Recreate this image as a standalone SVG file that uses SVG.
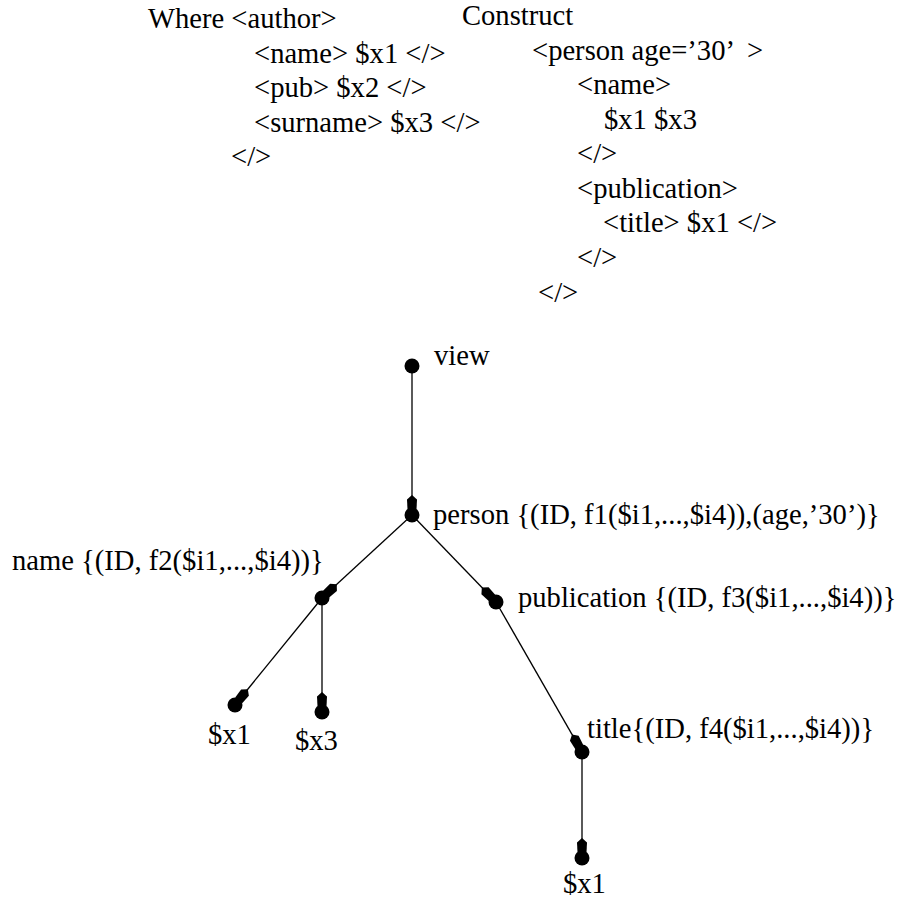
<svg xmlns="http://www.w3.org/2000/svg" width="900" height="899" viewBox="0 0 900 899" font-family="'Liberation Serif', 'DejaVu Serif', serif">
<style>
text{font-family:'Liberation Serif','DejaVu Serif',serif;font-size:28.6px;fill:#000;white-space:pre}
.dot{fill:#000}
.edge{stroke:#000;stroke-width:1.3;fill:none;marker-end:url(#arr)}
</style>
<defs>
<marker id="arr" markerUnits="userSpaceOnUse" viewBox="0 0 15 11" markerWidth="15" markerHeight="11" refX="14" refY="5.5" orient="auto">
<path d="M0,5.5 L4.5,0.5 L14.5,1 L14.5,10 L4.5,10.5 Z" fill="#000"/>
</marker>
</defs>
<g id="query">
<text x="148" y="28">Where &lt;author&gt;</text>
<text x="254" y="63">&lt;name&gt; $x1 &lt;/&gt;</text>
<text x="254" y="97">&lt;pub&gt; $x2 &lt;/&gt;</text>
<text x="254" y="132">&lt;surname&gt; $x3 &lt;/&gt;</text>
<text x="231" y="166">&lt;/&gt;</text>
<text x="462" y="25">Construct</text>
<text x="532" y="60">&lt;person age=’30’  &gt;</text>
<text x="577" y="94">&lt;name&gt;</text>
<text x="604" y="129">$x1 $x3</text>
<text x="577" y="163">&lt;/&gt;</text>
<text x="577" y="198">&lt;publication&gt;</text>
<text x="603" y="232">&lt;title&gt; $x1 &lt;/&gt;</text>
<text x="577" y="267">&lt;/&gt;</text>
<text x="538" y="302">&lt;/&gt;</text>
</g>
<g id="connectors">
<line class="edge" x1="412" y1="366" x2="412" y2="509"/>
<line class="edge" x1="412" y1="515" x2="326.5" y2="593.8"/>
<line class="edge" x1="412" y1="515" x2="491.6" y2="597.5"/>
<line class="edge" x1="322" y1="598" x2="239" y2="700"/>
<line class="edge" x1="322" y1="598" x2="322" y2="706"/>
<line class="edge" x1="496" y1="602" x2="579" y2="746.6"/>
<line class="edge" x1="582" y1="752" x2="582" y2="852"/>
</g>
<g id="view"><circle class="dot" cx="412" cy="366" r="7.5"/><text x="434" y="365">view</text></g>
<g id="person"><circle class="dot" cx="412" cy="515" r="7.5"/><text x="433" y="524">person {(ID, f1($i1,...,$i4)),(age,’30’)}</text></g>
<g id="name"><circle class="dot" cx="322" cy="598" r="7.5"/><text x="12" y="570">name {(ID, f2($i1,...,$i4))}</text></g>
<g id="publication"><circle class="dot" cx="496" cy="602" r="7.5"/><text x="518" y="607">publication {(ID, f3($i1,...,$i4))}</text></g>
<g id="x1a"><circle class="dot" cx="235" cy="705" r="7.5"/><text x="208" y="744">$x1</text></g>
<g id="x3"><circle class="dot" cx="322" cy="712" r="7.5"/><text x="295" y="750">$x3</text></g>
<g id="title"><circle class="dot" cx="582" cy="752" r="7.5"/><text x="587" y="738">title{(ID, f4($i1,...,$i4))}</text></g>
<g id="x1b"><circle class="dot" cx="582" cy="858" r="7.5"/><text x="563" y="893">$x1</text></g>
</svg>
